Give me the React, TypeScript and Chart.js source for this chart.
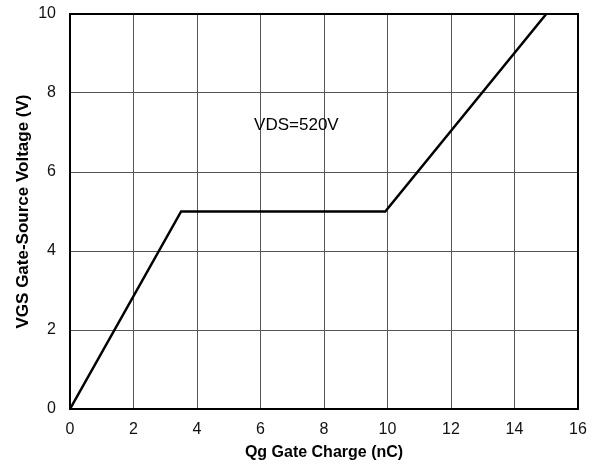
import React, { useEffect, useRef } from "react";
import { Chart, registerables } from "chart.js";

Chart.register(...registerables);

const qgValues = [0, 3.5, 9.93, 15];
const vgsValues = [0, 5, 5, 10];
const xTitle = "Qg Gate Charge (nC)";
const yTitle = "VGS Gate-Source Voltage (V)";
const annotationText = "VDS=520V";
const annotationPos = { x: 7.13, y: 7.19 };

const FONT = "'Liberation Sans', Arial, sans-serif";

export default function App() {
  const ref = useRef<HTMLCanvasElement | null>(null);
  useEffect(() => {
    document.body.style.margin = "0";
    const ctx = ref.current!.getContext("2d")!;
    const annot = {
      id: "annot",
      afterDatasetsDraw(chart: any) {
        const c = chart.ctx;
        const xs = chart.scales.x;
        const ys = chart.scales.y;
        c.save();
        c.font = `17px ${FONT}`;
        c.fillStyle = "#000";
        c.textAlign = "center";
        c.textBaseline = "middle";
        c.fillText(annotationText, xs.getPixelForValue(annotationPos.x), ys.getPixelForValue(annotationPos.y));
        c.restore();
      },
    };
    const chart = new Chart(ctx, {
      type: "line",
      data: {
        datasets: [
          {
            data: qgValues.map((x, i) => ({ x, y: vgsValues[i] })),
            borderColor: "#000",
            borderWidth: 2.5,
            pointRadius: 0,
            tension: 0,
            fill: false,
          },
        ],
      },
      options: {
        animation: false,
        responsive: false,
        maintainAspectRatio: false,
        layout: { padding: { left: 0, top: 14, right: 22, bottom: 0 } },
        plugins: { legend: { display: false }, tooltip: { enabled: false } },
        scales: {
          x: {
            type: "linear",
            min: 0,
            max: 16,
            ticks: { stepSize: 2, color: "#111", font: { family: FONT, size: 16 }, padding: 11 },
            grid: { color: "#555", lineWidth: 1, drawTicks: false },
            border: { color: "#000", width: 2 },
            title: { display: true, text: xTitle, color: "#000", font: { family: FONT, size: 16, weight: "bold" }, padding: { top: 0, bottom: 4 } },
            afterFit: (s: any) => { s.height = 57; s.paddingLeft = 0; s.paddingRight = 0; },
          },
          y: {
            min: 0,
            max: 10,
            ticks: { stepSize: 2, color: "#111", font: { family: FONT, size: 16 }, padding: 14 },
            grid: { color: "#555", lineWidth: 1, drawTicks: false },
            border: { color: "#000", width: 2 },
            title: { display: true, text: yTitle, color: "#000", font: { family: FONT, size: 17, weight: "bold" }, padding: { top: 13, bottom: 0 } },
            afterFit: (s: any) => { s.width = 70; s.paddingTop = 0; s.paddingBottom = 0; },
          },
        },
      },
      plugins: [
        annot,
        {
          id: "frame",
          afterDatasetsDraw(chart: any) {
            const a = chart.chartArea;
            const c = chart.ctx;
            c.save();
            c.strokeStyle = "#000";
            c.lineWidth = 2;
            c.strokeRect(a.left, a.top, a.right - a.left, a.bottom - a.top);
            c.restore();
          },
        },
      ],
    } as any);
    return () => chart.destroy();
  }, []);
  return (
    <div style={{ width: 600, height: 466, background: "#fff" }}>
      <canvas ref={ref} width={600} height={466} />
    </div>
  );
}
